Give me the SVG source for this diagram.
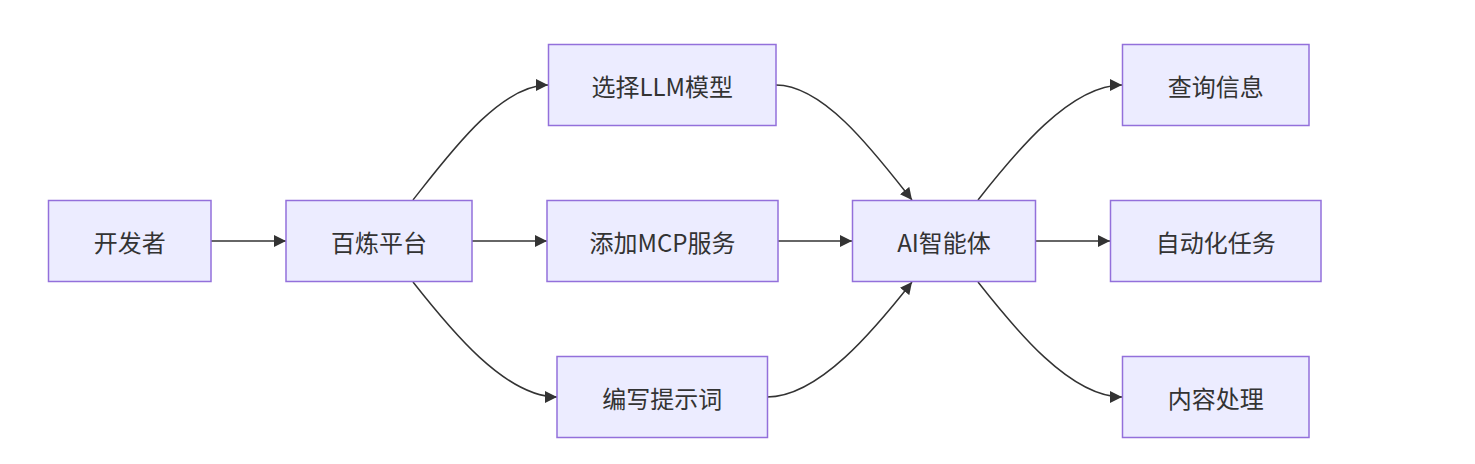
<svg xmlns="http://www.w3.org/2000/svg" width="1475" height="464" viewBox="0 0 1475 464">
<style>
.node rect{fill:#ECECFF;stroke:#9370DB;stroke-width:1.5}
.node text{font-family:"Noto Sans CJK SC","Noto Sans",sans-serif;font-size:24px;fill:#333;text-anchor:middle;dominant-baseline:central}
.edge{fill:none;stroke:#333;stroke-width:1.5;marker-end:url(#arrow)}
</style>
<defs>
<marker id="arrow" viewBox="0 0 10 10" refX="10" refY="5" markerUnits="userSpaceOnUse" markerWidth="12" markerHeight="12" orient="auto">
<path d="M0,0 L10,5 L0,10 z" fill="#333"/>
</marker>
</defs>
<rect width="1475" height="464" fill="#fff"/>
<g id="connectors">
<path class="edge" d="M211,241 L286,241"/>
<path class="edge" d="M413,200 C450,153 500,85 548,85"/>
<path class="edge" d="M472,241 L547,241"/>
<path class="edge" d="M413,282 C450,329 505,397 557,397"/>
<path class="edge" d="M776,85 C824,85 875,153 912,200"/>
<path class="edge" d="M778,241 L852,241"/>
<path class="edge" d="M767,397 C819,397 875,329 912,282"/>
<path class="edge" d="M978,200 C1015,153 1070,85 1122,85"/>
<path class="edge" d="M1036,241 L1110,241"/>
<path class="edge" d="M978,282 C1015,329 1070,397 1122,397"/>
</g>
<g id="n_dev" class="node"><rect x="48.5" y="200.5" width="162.5" height="81"/><text x="129.75" y="241">开发者</text></g>
<g id="n_bailian" class="node"><rect x="286" y="200.5" width="186" height="81"/><text x="379" y="241">百炼平台</text></g>
<g id="n_llm" class="node"><rect x="548.5" y="44.5" width="227.5" height="81"/><text x="662.25" y="85">选择LLM模型</text></g>
<g id="n_mcp" class="node"><rect x="547" y="200.5" width="231" height="81"/><text x="662.5" y="241">添加MCP服务</text></g>
<g id="n_prompt" class="node"><rect x="557" y="356.5" width="210.5" height="81"/><text x="662.25" y="397">编写提示词</text></g>
<g id="n_agent" class="node"><rect x="852.5" y="200.5" width="183" height="81"/><text x="944" y="241">AI智能体</text></g>
<g id="n_query" class="node"><rect x="1122.5" y="44.5" width="186.5" height="81"/><text x="1215.75" y="85">查询信息</text></g>
<g id="n_auto" class="node"><rect x="1110.5" y="200.5" width="210.5" height="81"/><text x="1215.75" y="241">自动化任务</text></g>
<g id="n_content" class="node"><rect x="1122.5" y="356.5" width="186.5" height="81"/><text x="1215.75" y="397">内容处理</text></g>
</svg>
